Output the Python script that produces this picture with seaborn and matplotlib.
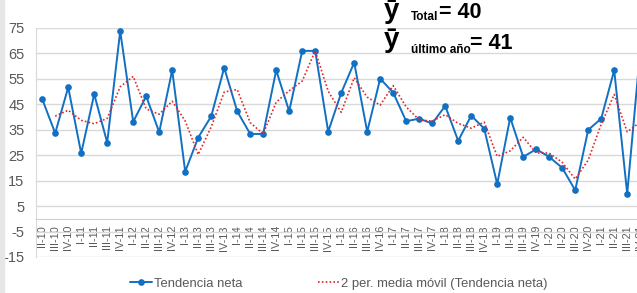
import matplotlib
matplotlib.use('Agg')
import matplotlib.pyplot as plt
import pandas as pd
import seaborn as sns
from matplotlib import font_manager
from matplotlib.patches import Rectangle

quarters = ['II-10', 'III-10', 'IV-10',
            'I-11', 'II-11', 'III-11', 'IV-11',
            'I-12', 'II-12', 'III-12', 'IV-12',
            'I-13', 'II-13', 'III-13', 'IV-13',
            'I-14', 'II-14', 'III-14', 'IV-14',
            'I-15', 'II-15', 'III-15', 'IV-15',
            'I-16', 'II-16', 'III-16', 'IV-16',
            'I-17', 'II-17', 'III-17', 'IV-17',
            'I-18', 'II-18', 'III-18', 'IV-18',
            'I-19', 'II-19', 'III-19', 'IV-19',
            'I-20', 'II-20', 'III-20', 'IV-20',
            'I-21', 'II-21', 'III-21', 'IV-21']

tendencia = [47, 33.6, 51.6,
             25.7, 48.9, 29.9, 73.7,
             38.1, 48.1, 34, 58.3,
             18.5, 31.9, 40.2, 59.3,
             42.2, 33.3, 33.3, 58.3,
             42.2, 65.9, 65.9, 34.2,
             49.4, 61.3, 34.2, 55,
             49.5, 38.3, 39.3, 37.4,
             44.3, 30.6, 40.5, 35.4,
             13.6, 39.7, 24.3, 27.3,
             24.3, 20, 11.2, 34.9,
             39.3, 58.3, 9.9, 66]

y_ticks = [-15, -5, 5, 15, 25, 35, 45, 55, 65, 75]

df = pd.DataFrame({'trimestre': quarters, 'Tendencia neta': tendencia})
# Excel style 2-period moving average trendline
df['media'] = df['Tendencia neta'].rolling(2).mean()

sns.set_style('white')
names = {f.name for f in font_manager.fontManager.ttflist}
base_font = 'Liberation Sans' if 'Liberation Sans' in names else 'DejaVu Sans'
narrow_font = 'Liberation Sans Narrow' if 'Liberation Sans Narrow' in names else base_font
plt.rcParams['font.family'] = [base_font, 'DejaVu Sans']
plt.rcParams['axes.unicode_minus'] = False

W, H = 637, 293
fig = plt.figure(figsize=(W / 100, H / 100), dpi=100)
fig.patches.append(Rectangle((0, 0), 4 / W, 1, transform=fig.transFigure,
                             color='#e6e6e6', zorder=0))

ax = fig.add_axes([35.7 / W, 36 / H, 611 / W, 229.3 / H])

blue = '#1170c4'
red = '#e3262a'
gray = '#595959'

sns.lineplot(data=df, x='trimestre', y='Tendencia neta', ax=ax, color=blue,
             linewidth=1.4, marker='o', markersize=4.8, markeredgewidth=0,
             label='Tendencia neta', sort=False)
sns.lineplot(data=df.dropna(), x='trimestre', y='media', ax=ax, color=red,
             linewidth=1.2, linestyle=(0, (1, 1.3)),
             label='2 per. media móvil (Tendencia neta)', sort=False)

ax.set_ylim(-15, 75)
ax.set_xlim(-0.5, len(quarters) - 0.5)
ax.set_yticks(y_ticks)
ax.set_xticks(range(len(quarters)), quarters)
ax.tick_params(axis='y', length=0, pad=8, labelsize=10.5, labelcolor=gray)
ax.tick_params(axis='x', length=0, pad=4.5, labelsize=7.8, labelcolor=gray,
               labelrotation=90)
ax.set_xlabel('')
ax.set_ylabel('')
ax.yaxis.grid(True, color='#d9d9d9', linewidth=1.0)
ax.xaxis.grid(False)
ax.set_axisbelow(True)

for side in ['top', 'right']:
    ax.spines[side].set_visible(False)
ax.spines['left'].set_color('#d9d9d9')
ax.spines['bottom'].set_color('#cfcfcf')
ax.spines['bottom'].set_position(('data', 0))

handles, labels = ax.get_legend_handles_labels()
ax.get_legend().remove()
fig.legend(handles, labels, loc='center', bbox_to_anchor=(0.532, 0.031),
           ncol=2, frameon=False, fontsize=9.4, labelcolor=gray,
           handlelength=1.7, handletextpad=0.1, columnspacing=5.8)


def ftext(x, y, s, **kw):
    fig.text(x / W, 1 - y / H, s, va='baseline', ha='left',
             family=[narrow_font, 'DejaVu Sans'], fontweight='bold',
             color='black', **kw)


ftext(384, 18, 'ȳ', fontsize=20)
ftext(411, 20.5, 'Total', fontsize=8.5)
ftext(439, 18.3, '= 40', fontsize=15.5)
ftext(384, 47, 'ȳ', fontsize=20)
ftext(411, 53, 'último año', fontsize=8.5)
ftext(470, 49.3, '= 41', fontsize=15.5)

fig.savefig('out.png', dpi=100)
